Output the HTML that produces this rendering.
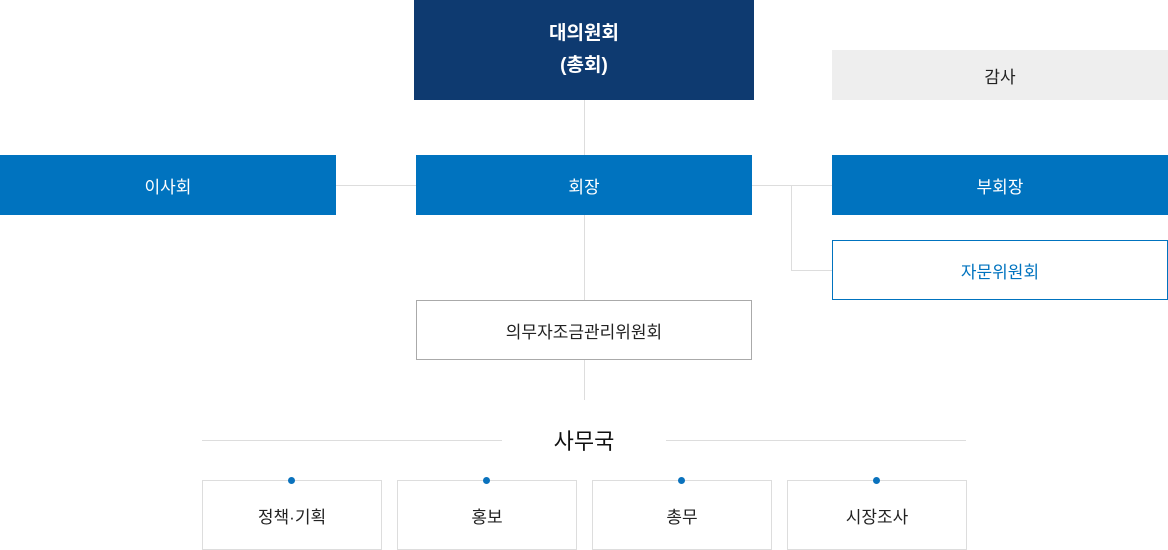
<!DOCTYPE html>
<html><head><meta charset="utf-8"><style>
body{margin:0;width:1168px;height:550px;position:relative;background:#fff;font-family:"Liberation Sans","Noto Sans CJK KR",sans-serif;overflow:hidden}
.b{position:absolute;box-sizing:border-box;display:flex;align-items:center;justify-content:center;text-align:center;font-size:17px}
.l{position:absolute;background:#ddd}
.d{position:absolute;width:7px;height:7px;border-radius:50%;background:#0a72bd}
</style></head><body>
<div class="l" style="left:584px;top:100px;width:1px;height:300px"></div>
<div class="l" style="left:336px;top:185px;width:496px;height:1px"></div>
<div class="l" style="left:791px;top:185px;width:1px;height:85px"></div>
<div class="l" style="left:791px;top:270px;width:41px;height:1px"></div>
<div class="l" style="left:202px;top:440px;width:300px;height:1px"></div>
<div class="l" style="left:666px;top:440px;width:300px;height:1px"></div>
<div class="b" style="left:414px;top:0;width:340px;height:100px;background:#0e3a70;color:#fff;font-weight:bold;font-size:19px;line-height:32px">대의원회<br>(총회)</div>
<div class="b" style="left:832px;top:50px;width:336px;height:50px;background:#eee;color:#222">감사</div>
<div class="b" style="left:0;top:155px;width:336px;height:60px;background:#0073bf;color:#fff">이사회</div>
<div class="b" style="left:416px;top:155px;width:336px;height:60px;background:#0073bf;color:#fff">회장</div>
<div class="b" style="left:832px;top:155px;width:336px;height:60px;background:#0073bf;color:#fff">부회장</div>
<div class="b" style="left:832px;top:240px;width:336px;height:60px;border:1px solid #0073bf;color:#0073bf;background:#fff">자문위원회</div>
<div class="b" style="left:416px;top:300px;width:336px;height:60px;border:1px solid #aaa;color:#222;background:#fff">의무자조금관리위원회</div>
<div class="b" style="left:502px;top:425px;width:164px;height:30px;font-size:22px;color:#111">사무국</div>
<div class="b" style="left:202px;top:480px;width:180px;height:70px;border:1px solid #ddd;color:#222">정책·기획</div>
<div class="b" style="left:397px;top:480px;width:180px;height:70px;border:1px solid #ddd;color:#222">홍보</div>
<div class="b" style="left:592px;top:480px;width:180px;height:70px;border:1px solid #ddd;color:#222">총무</div>
<div class="b" style="left:787px;top:480px;width:180px;height:70px;border:1px solid #ddd;color:#222">시장조사</div>
<div class="d" style="left:288px;top:477px"></div>
<div class="d" style="left:483px;top:477px"></div>
<div class="d" style="left:678px;top:477px"></div>
<div class="d" style="left:873px;top:477px"></div>
</body></html>
